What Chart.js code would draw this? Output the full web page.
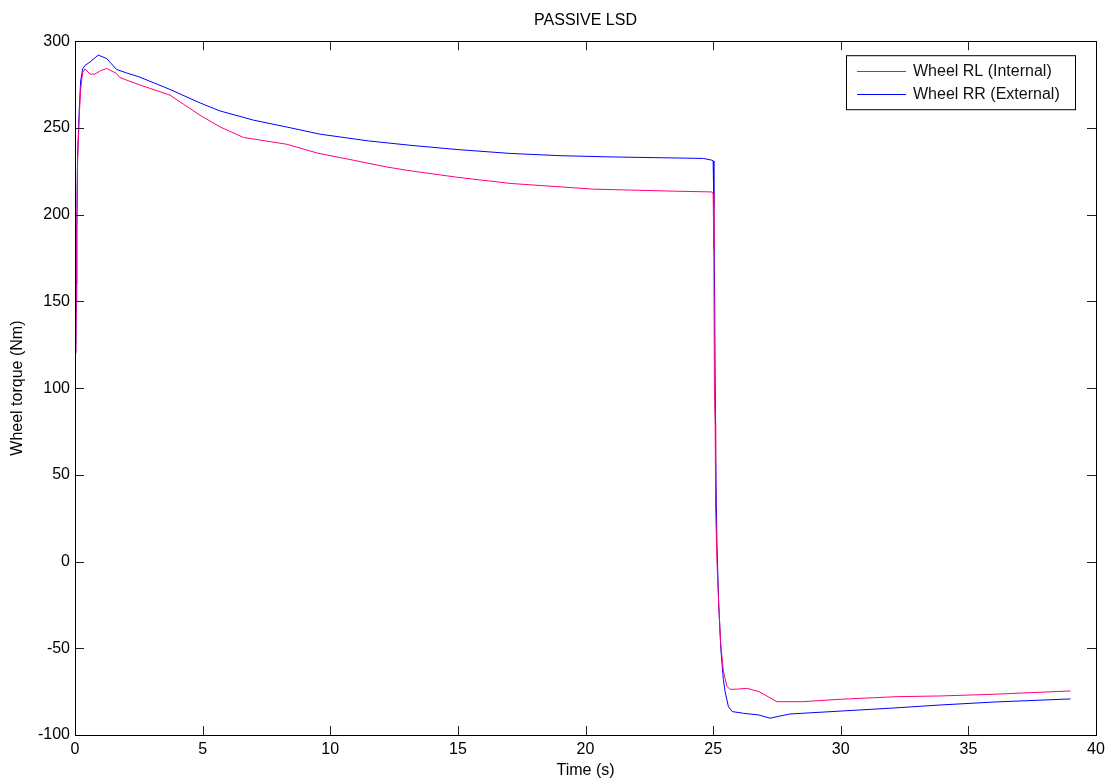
<!DOCTYPE html>
<html>
<head>
<meta charset="utf-8">
<title>PASSIVE LSD</title>
<script src="https://cdn.jsdelivr.net/npm/chart.js@4/dist/chart.umd.min.js"></script>
<style>
  html, body { margin: 0; padding: 0; background: #fff; }
  #torque { display: block; }
</style>
</head>
<body>
<canvas id="torque" width="1106" height="782"></canvas>
<script>
// wheel RL (internal) torque trace
const rlTime = [0.03, 0.05, 0.07, 0.1, 0.13, 0.17, 0.22, 0.3, 0.39, 0.59, 0.78, 1.0, 1.24, 1.63, 1.76, 2.5, 3.72,
  4.9, 5.68, 6.6, 8.29, 9.5, 10.9, 12.2, 13.13, 15, 17.05, 20.31, 23.58, 24.95, 25.0, 25.03, 25.05, 25.08, 25.1,
  25.15, 25.22, 25.3, 25.4, 25.54, 25.67, 26.0, 26.32, 26.8, 27.5, 28.5, 29.97, 32.2, 33.9, 36, 39];
const rlTorque = [120, 150, 190, 230, 242, 258, 272, 282, 284, 281, 281, 283, 284.3, 281.4, 279, 275, 268.9,
  257.3, 250.6, 244.5, 240.6, 235.5, 231.4, 227.5, 225.3, 221.5, 218, 214.7, 213.5, 213.1, 212, 180, 100, 80, 30,
  0, -25, -48, -63, -72, -73.7, -73.5, -73.1, -75, -80.8, -80.8, -79.4, -77.9, -77.5, -76.5, -74.6];

// wheel RR (external) torque trace
const rrTime = [0.03, 0.05, 0.07, 0.1, 0.16, 0.22, 0.3, 0.39, 0.59, 0.91, 1.24, 1.63, 2.02, 2.5, 3.72, 4.9, 5.68,
  6.99, 8.3, 9.6, 11.5, 13.13, 15, 17.05, 19, 20.96, 23, 24.62, 24.95, 25.0, 25.03, 25.06, 25.1, 25.15, 25.22,
  25.3, 25.4, 25.47, 25.6, 25.75, 26.2, 26.8, 27.23, 28, 30, 32, 33.9, 36, 39];
const rrTorque = [120, 160, 191, 234, 258, 277, 284, 286, 288, 292, 290, 283.7, 281.7, 279.5, 272.2, 264.4, 259.8,
  254.5, 250.5, 246.4, 242.5, 240, 237.5, 235.3, 234, 233.3, 232.8, 232.4, 231.4, 231, 204, 150, 60, 10, -25,
  -50, -68, -75, -83.7, -86.5, -87.5, -88.5, -90.3, -87.9, -86.2, -84.5, -82.7, -81, -79.2];

const xTicks = [0, 5, 10, 15, 20, 25, 30, 35, 40];
const yTicks = [-100, -50, 0, 50, 100, 150, 200, 250, 300];

const FONT = 'Arial, "Liberation Sans", sans-serif';

const toPoints = (xs, ys) => xs.map((x, i) => ({ x: x, y: ys[i] }));

// box round the plot area with inward ticks on all four sides
const axesBoxPlugin = {
  id: 'axesBox',
  afterDatasetsDraw: (chart) => {
    const ctx = chart.ctx;
    const a = chart.chartArea;
    const xs = chart.scales.x, ys = chart.scales.y;
    const len = 9;
    ctx.save();
    ctx.lineWidth = 1;
    ctx.strokeStyle = '#222';
    ctx.beginPath();
    xTicks.forEach(v => {
      const px = Math.round(xs.getPixelForValue(v)) + 0.5;
      ctx.moveTo(px, a.bottom); ctx.lineTo(px, a.bottom - len);
      ctx.moveTo(px, a.top); ctx.lineTo(px, a.top + len);
    });
    yTicks.forEach(v => {
      const py = Math.round(ys.getPixelForValue(v)) + 0.5;
      ctx.moveTo(a.left, py); ctx.lineTo(a.left + len, py);
      ctx.moveTo(a.right, py); ctx.lineTo(a.right - len, py);
    });
    ctx.stroke();
    ctx.strokeStyle = '#000';
    ctx.strokeRect(Math.round(a.left) + 0.5, Math.round(a.top) + 0.5,
      Math.round(a.right - a.left), Math.round(a.bottom - a.top));
    ctx.restore();
  }
};

// boxed legend in the upper right corner
const boxLegendPlugin = {
  id: 'boxLegend',
  afterDraw: (chart) => {
    const ctx = chart.ctx;
    const a = chart.chartArea;
    const right = a.right - 21, top = a.top + 14;
    const w = 229, h = 54;
    const left = right - w;
    ctx.save();
    ctx.fillStyle = '#fff';
    ctx.fillRect(left, top, w, h);
    ctx.lineWidth = 1;
    ctx.strokeStyle = '#000';
    ctx.strokeRect(left + 0.5, top + 0.5, w, h);
    ctx.font = '16px ' + FONT;
    ctx.textBaseline = 'middle';
    ctx.textAlign = 'left';
    chart.data.datasets.forEach((ds, i) => {
      const y = Math.round(top + 16 + i * 22.5) + 0.5;
      ctx.strokeStyle = ds.borderColor;
      ctx.beginPath();
      ctx.moveTo(left + 11, y);
      ctx.lineTo(left + 60, y);
      ctx.stroke();
      ctx.fillStyle = '#111';
      ctx.fillText(ds.label, left + 67, y);
    });
    ctx.restore();
  }
};

new Chart(document.getElementById('torque').getContext('2d'), {
  type: 'line',
  data: {
    datasets: [{
      label: 'Wheel RL (Internal)',
      data: toPoints(rlTime, rlTorque),
      borderColor: '#ff0080',
      borderWidth: 1,
      pointRadius: 0,
      tension: 0,
      fill: false
    }, {
      label: 'Wheel RR (External)',
      data: toPoints(rrTime, rrTorque),
      borderColor: '#0000ff',
      borderWidth: 1,
      pointRadius: 0,
      tension: 0,
      fill: false
    }]
  },
  options: {
    responsive: false,
    animation: false,
    devicePixelRatio: 1,
    layout: { padding: { left: 0, right: 10, top: 0, bottom: 0 } },
    plugins: {
      legend: { display: false },
      tooltip: { enabled: false },
      title: {
        display: true,
        fullSize: false,
        text: 'PASSIVE LSD',
        color: '#000',
        font: { family: FONT, size: 16, weight: 'normal' },
        padding: { top: 11, bottom: 11 }
      }
    },
    scales: {
      x: {
        type: 'linear',
        min: 0,
        max: 40,
        afterFit: (s) => { s.height = 47; s.paddingLeft = 0; s.paddingRight = 0; },
        afterBuildTicks: (s) => { s.ticks = xTicks.map(v => ({ value: v })); },
        grid: { display: false, drawTicks: false },
        border: { display: false },
        ticks: { color: '#000', padding: 5, maxRotation: 0, font: { family: FONT, size: 16 } },
        title: {
          display: true,
          text: 'Time (s)',
          color: '#000',
          font: { family: FONT, size: 16 },
          padding: { top: 0, bottom: 2 }
        }
      },
      y: {
        min: -100,
        max: 300,
        afterFit: (s) => { s.width = 75; },
        afterBuildTicks: (s) => { s.ticks = yTicks.map(v => ({ value: v })); },
        grid: { display: false, drawTicks: false },
        border: { display: false },
        ticks: { color: '#000', padding: 5, font: { family: FONT, size: 16 } },
        title: {
          display: true,
          text: 'Wheel torque (Nm)',
          color: '#000',
          font: { family: FONT, size: 16 },
          padding: { top: 8, bottom: 0 }
        }
      }
    }
  },
  plugins: [axesBoxPlugin, boxLegendPlugin]
});
</script>
</body>
</html>
